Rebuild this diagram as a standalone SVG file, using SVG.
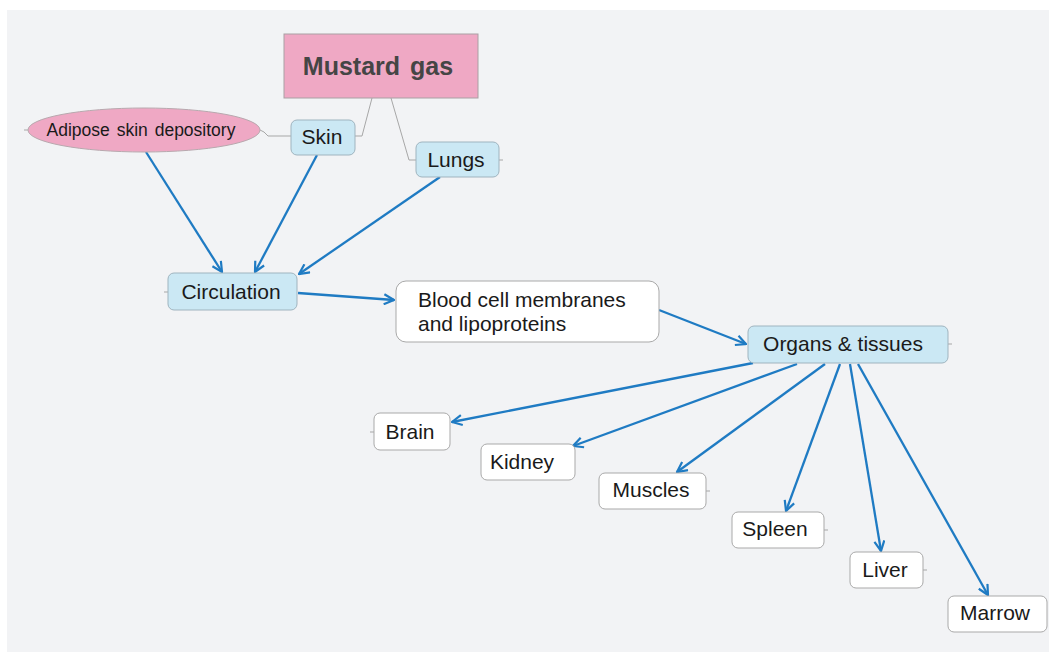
<svg xmlns="http://www.w3.org/2000/svg" width="1049" height="652" viewBox="0 0 1049 652">
<defs>
<style>
text{font-family:"Liberation Sans",Arial,sans-serif;fill:#1a1a1a}
.blue{fill:#cbe8f4;stroke:#9fb4bf;stroke-width:1}
.white{fill:#ffffff;stroke:#a9a9a9;stroke-width:1}
.thin{fill:none;stroke:#a7a7a7;stroke-width:1}
.arr{fill:none;stroke:#1f7bc3;stroke-width:2.3;marker-end:url(#ah)}
.lbl{font-size:21px}
</style>
<marker id="ah" viewBox="0 0 12 12" refX="11" refY="6" markerWidth="12" markerHeight="12" markerUnits="userSpaceOnUse" orient="auto">
<path d="M1,1 L11,6 L1,11" fill="none" stroke="#1f7bc3" stroke-width="2.2"/>
</marker>
</defs>
<rect x="0" y="0" width="1049" height="652" fill="#ffffff"/>
<rect x="7" y="10" width="1042" height="642" fill="#f2f3f5"/>

<g id="connectors">
<polyline class="thin" points="372,98 362,136 355,136"/>
<polyline class="thin" points="391,98 409,160 416,160"/>
<polyline class="thin" points="260,130 264,132 268,136 291,136"/>
<line class="thin" x1="24" y1="130" x2="28" y2="130"/>
<line class="thin" x1="499" y1="160" x2="503" y2="160"/>
<line class="thin" x1="164" y1="292" x2="168" y2="292"/>
<line class="thin" x1="948" y1="344" x2="952" y2="344"/>
<line class="thin" x1="370" y1="432" x2="374" y2="432"/>
<line class="thin" x1="706" y1="491" x2="710" y2="491"/>
<line class="thin" x1="824" y1="530" x2="828" y2="530"/>
<line class="thin" x1="923" y1="570" x2="927" y2="570"/>
<path class="arr" d="M146,152 L222,272"/>
<path class="arr" d="M317,155 L255,272"/>
<path class="arr" d="M440,177 L299,274"/>
<path class="arr" d="M298,293 L394,300"/>
<path class="arr" d="M659,310 L746,344"/>
<path class="arr" d="M753,363 L452,422"/>
<path class="arr" d="M797,364 L573,446"/>
<path class="arr" d="M825,364 L677,472"/>
<path class="arr" d="M840,364 L786,511"/>
<path class="arr" d="M850,364 L881,551"/>
<path class="arr" d="M858,364 L988,595"/>
</g>

<g id="mustard-gas">
<rect x="284" y="34" width="194" height="64" fill="#efa8c4" stroke="#a9a0a4" stroke-width="1"/>
<text x="378" y="75" text-anchor="middle" font-size="25" font-weight="bold" style="fill:#454545" word-spacing="3">Mustard gas</text>
</g>
<g id="adipose">
<ellipse cx="144" cy="130" rx="116" ry="22" fill="#efa8c4" stroke="#b8a8ae" stroke-width="1"/>
<text x="141" y="136" text-anchor="middle" font-size="17.5" word-spacing="2">Adipose skin depository</text>
</g>
<g id="skin">
<rect class="blue" x="291" y="120" width="64" height="35" rx="6"/>
<text class="lbl" x="322" y="144" text-anchor="middle">Skin</text>
</g>
<g id="lungs">
<rect class="blue" x="416" y="142" width="83" height="35" rx="6"/>
<text class="lbl" x="456" y="167" text-anchor="middle">Lungs</text>
</g>
<g id="circulation">
<rect class="blue" x="168" y="273" width="129" height="37" rx="6"/>
<text class="lbl" x="231" y="299" text-anchor="middle">Circulation</text>
</g>
<g id="blood">
<rect class="white" x="396" y="281" width="263" height="61" rx="10"/>
<text class="lbl" x="418" y="307">Blood cell membranes</text>
<text class="lbl" x="418" y="331">and lipoproteins</text>
</g>
<g id="organs">
<rect class="blue" x="748" y="326" width="200" height="37" rx="6"/>
<text class="lbl" x="843" y="351" text-anchor="middle">Organs &amp; tissues</text>
</g>
<g id="brain">
<rect class="white" x="374" y="413" width="76" height="37" rx="6"/>
<text class="lbl" x="410" y="439" text-anchor="middle">Brain</text>
</g>
<g id="kidney">
<rect class="white" x="481" y="444" width="94" height="36" rx="6"/>
<text class="lbl" x="522" y="469" text-anchor="middle">Kidney</text>
</g>
<g id="muscles">
<rect class="white" x="599" y="473" width="107" height="36" rx="6"/>
<text class="lbl" x="651" y="497" text-anchor="middle">Muscles</text>
</g>
<g id="spleen">
<rect class="white" x="732" y="512" width="92" height="36" rx="6"/>
<text class="lbl" x="775" y="536" text-anchor="middle">Spleen</text>
</g>
<g id="liver">
<rect class="white" x="850" y="552" width="73" height="36" rx="6"/>
<text class="lbl" x="885" y="577" text-anchor="middle">Liver</text>
</g>
<g id="marrow">
<rect class="white" x="948" y="596" width="99" height="36" rx="6"/>
<text class="lbl" x="995" y="620" text-anchor="middle">Marrow</text>
</g>
</svg>
